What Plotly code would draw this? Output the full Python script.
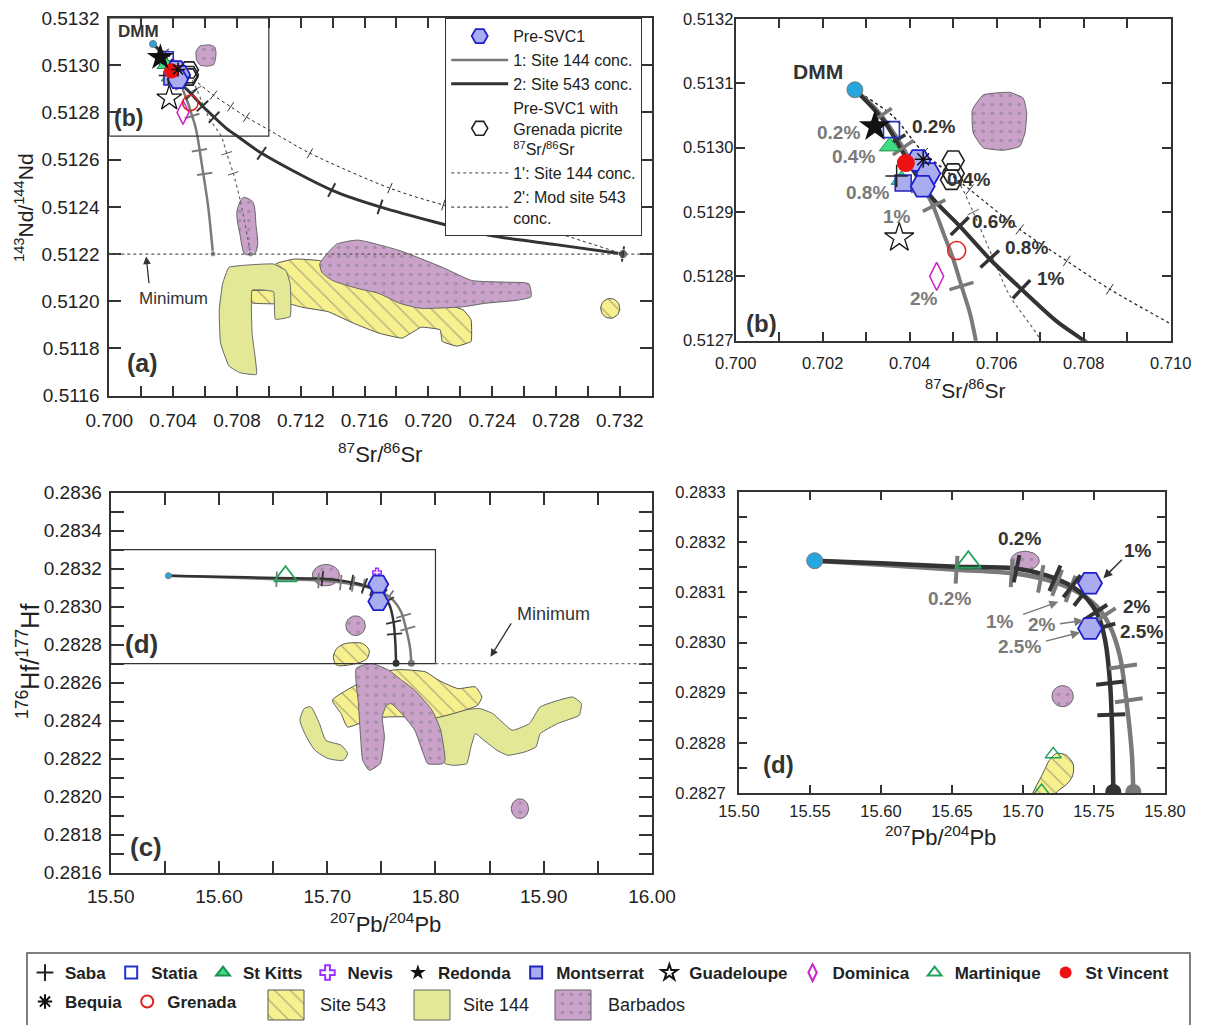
import numpy as np
import plotly.graph_objects as go

W, H = 1211, 1025
FONT = "Liberation Sans, Arial, sans-serif"

# ---------------- axis ranges and ticks ----------------
A_X = [0.700, 0.734]; A_Y = [0.5116, 0.5132]
B_X = [0.700, 0.710]; B_Y = [0.5127, 0.5132]
C_X = [15.50, 16.00]; C_Y = [0.2816, 0.2836]
D_X = [15.50, 15.80]; D_Y = [0.2827, 0.2833]

A_XTV = [0.700, 0.702, 0.704, 0.706, 0.708, 0.710, 0.712, 0.714, 0.716, 0.718, 0.720, 0.722, 0.724, 0.726, 0.728, 0.730, 0.732]
A_XTT = ["0.700", "", "0.704", "", "0.708", "", "0.712", "", "0.716", "", "0.720", "", "0.724", "", "0.728", "", "0.732"]
A_YTV = [0.5116, 0.5118, 0.5120, 0.5122, 0.5124, 0.5126, 0.5128, 0.5130, 0.5132]
A_YTT = ["0.5116", "0.5118", "0.5120", "0.5122", "0.5124", "0.5126", "0.5128", "0.5130", "0.5132"]
B_XTV = [0.700, 0.701, 0.702, 0.703, 0.704, 0.705, 0.706, 0.707, 0.708, 0.709, 0.710]
B_XTT = ["0.700", "", "0.702", "", "0.704", "", "0.706", "", "0.708", "", "0.710"]
B_YTV = [0.5127, 0.5128, 0.5129, 0.5130, 0.5131, 0.5132]
B_YTT = ["0.5127", "0.5128", "0.5129", "0.5130", "0.5131", "0.5132"]
C_XTV = [15.50, 15.55, 15.60, 15.65, 15.70, 15.75, 15.80, 15.85, 15.90, 15.95, 16.00]
C_XTT = ["15.50", "", "15.60", "", "15.70", "", "15.80", "", "15.90", "", "16.00"]
C_YTV = [0.2816, 0.2817, 0.2818, 0.2819, 0.2820, 0.2821, 0.2822, 0.2823, 0.2824, 0.2825, 0.2826,
         0.2827, 0.2828, 0.2829, 0.2830, 0.2831, 0.2832, 0.2833, 0.2834, 0.2835, 0.2836]
C_YTT = ["0.2816", "", "0.2818", "", "0.2820", "", "0.2822", "", "0.2824", "", "0.2826",
         "", "0.2828", "", "0.2830", "", "0.2832", "", "0.2834", "", "0.2836"]
D_XTV = [15.50, 15.55, 15.60, 15.65, 15.70, 15.75, 15.80]
D_XTT = ["15.50", "15.55", "15.60", "15.65", "15.70", "15.75", "15.80"]
D_YTV = [0.28270, 0.28275, 0.28280, 0.28285, 0.28290, 0.28295, 0.28300, 0.28305, 0.28310, 0.28315, 0.28320, 0.28325, 0.28330]
D_YTT = ["0.2827", "", "0.2828", "", "0.2829", "", "0.2830", "", "0.2831", "", "0.2832", "", "0.2833"]

MIN_ND = 0.5122
MIN_HF = 0.2827

# ---------------- Sr-Nd data (panels a, b) ----------------
DMM_SR = [0.70274]; DMM_ND = [0.51309]

# mixing curve 1: Site 144 conc.
C1_SR = [0.70274, 0.70324, 0.70385, 0.70423, 0.70454, 0.70477, 0.70500, 0.70519, 0.70538, 0.70552, 0.70580, 0.70620, 0.70650]
C1_ND = [0.51309, 0.513059, 0.51300, 0.51295, 0.512909, 0.512868, 0.512827, 0.512785, 0.512744, 0.51270, 0.51258, 0.51240, 0.51220]
# mixing curve 2: Site 543 conc.
C2_SR = [0.70274, 0.70339, 0.70416, 0.70454, 0.70515, 0.70584, 0.70657, 0.70738, 0.70801, 0.70955, 0.71394, 0.71697, 0.72382, 0.72800, 0.73220]
C2_ND = [0.51309, 0.513043, 0.512956, 0.51292, 0.512878, 0.512827, 0.51278, 0.51273, 0.51270, 0.512627, 0.512471, 0.51240, 0.51228, 0.51224, 0.51220]
# 1': Site 144 conc. (Grenada picrite Sr)
C1P_SR = [0.70274, 0.70360, 0.70431, 0.70508, 0.70546, 0.70584, 0.70630, 0.70701, 0.70736, 0.70777, 0.70820, 0.70886]
C1P_ND = [0.51309, 0.51305, 0.512993, 0.51295, 0.51290, 0.51284, 0.51277, 0.51270, 0.512627, 0.512542, 0.51243, 0.51220]
# 2': Mod site 543 conc.
C2P_SR = [0.70274, 0.70360, 0.70431, 0.70538, 0.70653, 0.70761, 0.70860, 0.71000, 0.71258, 0.71759, 0.72094, 0.72650, 0.73220]
C2P_ND = [0.51309, 0.51305, 0.512993, 0.512935, 0.512873, 0.512824, 0.51278, 0.512726, 0.512627, 0.512479, 0.512408, 0.51232, 0.51220]

# increments along curves
T1_SR = [0.70335, 0.70385, 0.70428, 0.70456, 0.70519, 0.70565, 0.70598]
T1_ND = [0.51305, 0.51300, 0.51294, 0.51291, 0.512785, 0.51264, 0.51254]
T2_SR = [0.70365, 0.70423, 0.70515, 0.70584, 0.70657, 0.70955, 0.71394, 0.71697, 0.73220]
T2_ND = [0.51301, 0.51295, 0.512878, 0.512827, 0.51278, 0.512627, 0.512471, 0.51240, 0.51220]
T1P_SR = [0.70546, 0.70736, 0.70777]
T1P_ND = [0.51290, 0.512627, 0.512542]
T2P_SR = [0.70431, 0.70538, 0.70653, 0.70761, 0.70860, 0.71258, 0.71759, 0.72094]
T2P_ND = [0.512993, 0.512935, 0.512873, 0.512824, 0.51278, 0.512627, 0.512479, 0.512408]

# island samples (Sr, Nd)
REDONDA = ([0.70320], [0.513033])
STATIA = ([0.70358], [0.513028])
STKITTS = ([0.70354, 0.70381], [0.513002, 0.51295])
SABA = ([0.70370], [0.512956])
MONTSERRAT = ([0.70385], [0.512945])
STVINCENT = ([0.70391], [0.512976])
BEQUIA = ([0.70431], [0.512982])
PRESVC1 = ([0.70420, 0.70443, 0.70430], [0.51298, 0.51296, 0.51294])
PRESVC1_GP = ([0.70500, 0.70500, 0.70496], [0.51298, 0.51296, 0.51295])
GUADELOUPE = ([0.70376], [0.51286])
GRENADA = ([0.70508], [0.51284])
DOMINICA = ([0.70462], [0.51280])

# fields (Sr, Nd)
S144_A_SR = [0.70750, 0.70895, 0.71028, 0.71107, 0.71134, 0.71134, 0.71041, 0.71030, 0.70975, 0.70895, 0.70895, 0.70922, 0.70816, 0.70750, 0.70697, 0.70689, 0.70710]
S144_A_ND = [0.512144, 0.512155, 0.512158, 0.512130, 0.512074, 0.511935, 0.511924, 0.512040, 0.512047, 0.512047, 0.511865, 0.511690, 0.511698, 0.511726, 0.511823, 0.511963, 0.512074]
S543_A_SR = [0.70890, 0.70890, 0.71001, 0.71041, 0.71160, 0.71319, 0.71690, 0.71955, 0.72220, 0.72268, 0.72268, 0.72180, 0.72087, 0.72074, 0.71955, 0.71836, 0.71690, 0.71531, 0.71372, 0.71213, 0.71134]
S543_A_ND = [0.511994, 0.512044, 0.512050, 0.512158, 0.512179, 0.512172, 0.512074, 0.512019, 0.511963, 0.511921, 0.511830, 0.511810, 0.511830, 0.511879, 0.511890, 0.511844, 0.511865, 0.511907, 0.511956, 0.511974, 0.511988]
S543_A_BLOB = (0.73140, 0.51197, 0.00060, 0.000042)
BARB_A1_SR = [0.71346, 0.71425, 0.71558, 0.71823, 0.72087, 0.72273, 0.72485, 0.72630, 0.72644, 0.72564, 0.72352, 0.72220, 0.71955, 0.71823, 0.71690, 0.71558, 0.71399, 0.71332, 0.71319]
BARB_A1_ND = [0.512186, 0.512242, 0.512259, 0.512214, 0.512144, 0.512088, 0.512081, 0.512074, 0.512019, 0.512005, 0.511991, 0.511977, 0.511970, 0.511991, 0.512033, 0.512054, 0.512088, 0.512123, 0.512158]
BARB_A2_SR = [0.70840, 0.70900, 0.70920, 0.70930, 0.70910, 0.70850, 0.70820, 0.70800]
BARB_A2_ND = [0.51244, 0.51242, 0.51232, 0.51224, 0.51220, 0.51220, 0.51228, 0.51238]
BARB_AB_SR = [0.70569, 0.70630, 0.70661, 0.70669, 0.70665, 0.70653, 0.70615, 0.70569, 0.70546, 0.70544]
BARB_AB_ND = [0.513082, 0.513086, 0.513077, 0.513054, 0.513023, 0.513002, 0.512996, 0.513000, 0.513023, 0.513059]

# ---------------- Pb-Hf data (panels c, d) ----------------
DMM_PB = [15.5533]; DMM_HF = [0.283163]
H2_PB = [15.5533, 15.6000, 15.6532, 15.6931, 15.7166, 15.7331, 15.7448, 15.7531, 15.7578, 15.7613, 15.7629, 15.7636]
H2_HF = [0.283163, 0.283158, 0.283151, 0.283148, 0.283134, 0.283114, 0.283088, 0.283052, 0.283005, 0.282919, 0.282813, 0.282702]
H1_PB = [15.5533, 15.6000, 15.6532, 15.6931, 15.7166, 15.7354, 15.7519, 15.7613, 15.7683, 15.7730, 15.7766, 15.7777]
H1_HF = [0.283163, 0.283155, 0.283145, 0.283138, 0.283125, 0.283105, 0.283072, 0.283032, 0.282972, 0.282880, 0.282780, 0.282702]
TH2_PB = [15.6955, 15.7225, 15.7345, 15.7420, 15.7510, 15.7555, 15.7613, 15.7622]
TH2_HF = [0.283147, 0.283128, 0.283112, 0.283095, 0.283060, 0.283030, 0.282919, 0.282856]
TH1_PB = [15.6532, 15.6920, 15.7125, 15.7240, 15.7335, 15.7570, 15.7705, 15.7745]
TH1_HF = [0.283145, 0.283138, 0.283127, 0.283119, 0.283107, 0.283053, 0.282952, 0.282885]

PRESVC1_PBHF = ([15.7472, 15.7472], [0.283118, 0.283028])
MARTINIQUE_PBHF = ([15.6615], [0.283160])
MARTINIQUE_D_EXTRA = ([15.7213, 15.7131], [0.282777, 0.282704])
NEVIS_PBHF = ([15.7460], [0.283180])

S144_C1_PB = [15.6788, 15.6848, 15.6928, 15.6988, 15.7128, 15.7188, 15.7148, 15.7008, 15.6888, 15.6808, 15.6748]
S144_C1_HF = [0.282464, 0.282473, 0.282385, 0.282297, 0.282271, 0.282227, 0.282192, 0.282201, 0.282244, 0.282315, 0.282402]
S144_C2_PB = [15.7828, 15.7968, 15.8208, 15.8408, 15.8528, 15.8708, 15.8868, 15.8968, 15.9268, 15.9348, 15.9328, 15.9128, 15.8968, 15.8928,
              15.8828, 15.8668, 15.8568, 15.8448, 15.8368, 15.8328, 15.8288, 15.8168, 15.8088, 15.8048, 15.7888, 15.7808]
S144_C2_HF = [0.282490, 0.282455, 0.282455, 0.282464, 0.282438, 0.282350, 0.282385, 0.282473, 0.282525, 0.282490, 0.282429, 0.282385, 0.282332, 0.282262,
              0.282236, 0.282218, 0.282244, 0.282297, 0.282332, 0.282262, 0.282174, 0.282165, 0.282174, 0.282209, 0.282315, 0.282385]
S543_C1_PB = [15.7088, 15.7168, 15.7328, 15.7388, 15.7368, 15.7288, 15.7088, 15.7056]
S543_C1_HF = [0.282780, 0.282806, 0.282806, 0.282770, 0.282727, 0.282704, 0.282692, 0.282736]
S543_C2_PB = [15.7048, 15.7288, 15.7448, 15.7648, 15.7908, 15.8028, 15.8208, 15.8368, 15.8428, 15.8388, 15.8168, 15.7968, 15.7808, 15.7568, 15.7408, 15.7188, 15.7128]
S543_C2_HF = [0.282508, 0.282596, 0.282648, 0.282669, 0.282657, 0.282613, 0.282569, 0.282578, 0.282525, 0.282481, 0.282438, 0.282411, 0.282420, 0.282420, 0.282411, 0.282367, 0.282438]
BARB_C_PB = [15.7268, 15.7408, 15.7568, 15.7688, 15.7808, 15.7968, 15.8048, 15.8088, 15.8068, 15.7928, 15.7888, 15.7808, 15.7688,
             15.7588, 15.7548, 15.7508, 15.7528, 15.7488, 15.7388, 15.7328, 15.7308, 15.7288]
BARB_C_HF = [0.282675, 0.282701, 0.282666, 0.282613, 0.282560, 0.282455, 0.282350, 0.282192, 0.282174, 0.282174, 0.282227, 0.282350, 0.282438,
             0.282490, 0.282481, 0.282420, 0.282315, 0.282174, 0.282139, 0.282192, 0.282315, 0.282490]
BARB_C_BLOBS = [(15.6988, 0.283166, 0.0125, 0.000056), (15.7262, 0.282900, 0.0090, 0.000052), (15.8780, 0.281937, 0.0080, 0.000052)]
BARB_D_BLOBS = [(15.7014, 0.283163, 0.0100, 0.000019), (15.7279, 0.282893, 0.0075, 0.000021)]
S543_D_PB = [15.7040, 15.7072, 15.7131, 15.7190, 15.7237, 15.7307, 15.7354, 15.7349, 15.7307, 15.7237, 15.7200]
S543_D_HF = [0.282680, 0.282702, 0.282734, 0.282767, 0.282779, 0.282775, 0.282757, 0.282734, 0.282717, 0.282702, 0.282680]

# ---------------- layout geometry (pixels) ----------------
DOM = {
    'a': ([109.3 / W, 651.7 / W], [1 - 395.7 / H, 1 - 18 / H]),
    'b': ([735.7 / W, 1170.7 / W], [1 - 340.7 / H, 1 - 19 / H]),
    'c': ([110.7 / W, 652.0 / W], [1 - 872.7 / H, 1 - 492.7 / H]),
    'd': ([739.0 / W, 1165.0 / W], [1 - 793.0 / H, 1 - 492.0 / H]),
}
RNG = {'a': (A_X, A_Y), 'b': (B_X, B_Y), 'c': (C_X, C_Y), 'd': (D_X, D_Y)}
AX = {'a': ('x', 'y'), 'b': ('x2', 'y2'), 'c': ('x3', 'y3'), 'd': ('x4', 'y4'), 'key': ('x5', 'y5')}

DARK = '#333333'
GREY = '#7a7a7a'

fig = go.Figure()


def on(p):
    return dict(xaxis=AX[p][0], yaxis=AX[p][1])


def scale(p):
    (x0, x1), (y0, y1) = DOM[p]
    rx, ry = RNG[p]
    return (x1 - x0) * W / (rx[1] - rx[0]), (y1 - y0) * H / (ry[1] - ry[0])


def tick_angles(cx, cy, tx, ty, p):
    sx, sy = scale(p)
    X = np.array(cx) * sx
    Y = -np.array(cy) * sy
    out = []
    for x, y in zip(tx, ty):
        px, py = x * sx, -y * sy
        best = None
        for i in range(len(X) - 1):
            vx, vy = X[i + 1] - X[i], Y[i + 1] - Y[i]
            L2 = vx * vx + vy * vy
            if L2 == 0:
                continue
            t = max(0.0, min(1.0, ((px - X[i]) * vx + (py - Y[i]) * vy) / L2))
            d = (X[i] + t * vx - px) ** 2 + (Y[i] + t * vy - py) ** 2
            if best is None or d < best[0]:
                best = (d, vx, vy)
        out.append(float(np.degrees(np.arctan2(best[2], best[1]))))
    return out


FIELD = {
    '543': dict(fillcolor='#f6f08e', line=dict(color='#555555', width=1),
                fillpattern=dict(shape='\\', fgcolor='#6a6a6a', bgcolor='#f6f08e', size=11, solidity=0.12)),
    '144': dict(fillcolor='#e2e896', line=dict(color='#666666', width=1)),
    'barb': dict(fillcolor='#c9a1c9', line=dict(color='#666666', width=1),
                 fillpattern=dict(shape='.', fgcolor='#7b7b84', bgcolor='#c9a1c9', size=9, solidity=0.13)),
}


def field(p, xs, ys, kind, smooth=0.6):
    st = FIELD[kind]
    kw = dict(st)
    kw['line'] = dict(st['line'], shape='spline' if smooth else 'linear', smoothing=smooth if smooth else 1)
    fig.add_trace(go.Scatter(x=list(xs) + [xs[0]], y=list(ys) + [ys[0]], mode='lines', fill='toself',
                             hoverinfo='skip', showlegend=False, **kw, **on(p)))


def ellipse_field(p, blob, kind):
    cx, cy, rx, ry = blob
    t = np.linspace(0, 2 * np.pi, 41)[:-1]
    field(p, list(cx + rx * np.cos(t)), list(cy + ry * np.sin(t)), kind, smooth=0)


def curve(p, xs, ys, color, width, dash='solid', name=None, legend=None, rank=None):
    fig.add_trace(go.Scatter(x=xs, y=ys, mode='lines', line=dict(color=color, width=width, dash=dash, shape='spline', smoothing=0.8),
                             hoverinfo='skip', name=name, showlegend=legend is not None,
                             legend=legend or 'legend', legendrank=rank if rank else 1000, **on(p)))


def ticks(p, cx, cy, tx, ty, color, size, width):
    fig.add_trace(go.Scatter(x=tx, y=ty, mode='markers', hoverinfo='skip', showlegend=False,
                             marker=dict(symbol='line-ns', size=size, angle=tick_angles(cx, cy, tx, ty, p),
                                         color=color, line=dict(color=color, width=width)), **on(p)))


def pts(p, data, symbol, color, size, lw=1.5, lcolor=None, name=None, legend=None, rank=None):
    fig.add_trace(go.Scatter(x=data[0], y=data[1], mode='markers', hoverinfo='skip', name=name,
                             showlegend=legend is not None, legend=legend or 'legend', legendrank=rank if rank else 1000,
                             marker=dict(symbol=symbol, size=size, color=color,
                                         line=dict(color=lcolor or color, width=lw)), **on(p)))


# ================= panels a & b =================
for p in ['a', 'b']:
    big = p == 'b'
    if p == 'a':
        field(p, S543_A_SR, S543_A_ND, '543', smooth=0.3)
        ellipse_field(p, S543_A_BLOB, '543')
        field(p, S144_A_SR, S144_A_ND, '144', smooth=0.3)
        field(p, BARB_A1_SR, BARB_A1_ND, 'barb', smooth=0.5)
        field(p, BARB_A2_SR, BARB_A2_ND, 'barb', smooth=0.8)
    field(p, BARB_AB_SR, BARB_AB_ND, 'barb', smooth=0.4)

    lg = 'legend2' if p == 'a' else None
    curve(p, C1P_SR, C1P_ND, '#666666', 1.2, 'dot', "1': Site 144 conc.", lg, 5)
    curve(p, C2P_SR, C2P_ND, '#222222', 1.2 if big else 1.0, 'dot', "2': Mod site 543<br>conc.", lg, 6)
    curve(p, C1_SR, C1_ND, GREY, 4 if big else 2.5, 'solid', "1: Site 144 conc.", lg, 2)
    curve(p, C2_SR, C2_ND, DARK, 4 if big else 3, 'solid', "2: Site 543 conc.", lg, 3)

    ticks(p, C1P_SR, C1P_ND, T1P_SR, T1P_ND, '#555555', 9 if big else 8, 1)
    ticks(p, C2P_SR, C2P_ND, T2P_SR, T2P_ND, '#333333', 9 if big else 8, 1)
    ticks(p, C1_SR, C1_ND, T1_SR, T1_ND, GREY, 18 if big else 11, 3.5 if big else 2)
    ticks(p, C2_SR, C2_ND, T2_SR, T2_ND, DARK, 18 if big else 11, 3.5 if big else 2)

    if p == 'a':
        fig.add_trace(go.Scatter(x=[C1_SR[-1], C1P_SR[-1], C2_SR[-1]], y=[C1_ND[-1], C1P_ND[-1], C2_ND[-1]],
                                 mode='markers', hoverinfo='skip', showlegend=False,
                                 marker=dict(size=[6, 6, 9], color=[GREY, GREY, DARK]), **on(p)))

    s = 1.0 if big else 0.85
    leg1 = 'legend' if big else None
    leg3 = 'legend3' if big else None
    pts(p, DOMINICA, 'diamond-tall-open', '#cc22cc', 20 * s, 1.5, name='<b>Dominica</b>', legend=leg1, rank=8)
    pts(p, GUADELOUPE, 'star-open', '#111111', 22 * s, 1.3, name='<b>Guadeloupe</b>', legend=leg1, rank=7)
    pts(p, GRENADA, 'circle-open', '#dd2222', 18 * s, 1.5, name='<b>Grenada</b>', legend=leg3, rank=2)
    pts(p, PRESVC1_GP, 'hexagon2-open', '#222222', 22 * s, 1.6, name='Pre-SVC1 with<br>Grenada picrite<br><sup>87</sup>Sr/<sup>86</sup>Sr',
        legend='legend2' if p == 'a' else None, rank=4)
    pts(p, STATIA, 'square-open', '#2233cc', 16 * s, 1.6, name='<b>Statia</b>', legend=leg1, rank=2)
    pts(p, STKITTS, 'triangle-up', '#3ddc84', 18 * s, 1, '#1e8f4e', name='<b>St Kitts</b>', legend=leg1, rank=3)
    pts(p, MONTSERRAT, 'square', '#a9adf0', 16 * s, 1.5, '#2222bb', name='<b>Montserrat</b>', legend=leg1, rank=6)
    pts(p, PRESVC1, 'hexagon2', '#a9adf0', 24 * s, 1.8, '#1f1fcc', name='Pre-SVC1', legend='legend2' if p == 'a' else None, rank=1)
    pts(p, SABA, 'cross-thin', '#222222', 16 * s, 1.5, name='<b>Saba</b>', legend=leg1, rank=1)
    pts(p, STVINCENT, 'circle', '#ee1111', 18 * s, 0, name='<b>St Vincent</b>', legend=leg1, rank=10)
    pts(p, BEQUIA, 'asterisk-open', '#111111', 14 * s, 1.5, name='<b>Bequia</b>', legend=leg3, rank=1)
    pts(p, REDONDA, 'star', '#111111', 24 * s, 0, name='<b>Redonda</b>', legend=leg1, rank=5)
    pts(p, (DMM_SR, DMM_ND), 'circle', '#28a6de', 16 if big else 7, 1, '#7a7a7a')

# ================= panels c & d =================
for p in ['c', 'd']:
    big = p == 'd'
    if p == 'c':
        field(p, S144_C1_PB, S144_C1_HF, '144', smooth=0.6)
        field(p, S144_C2_PB, S144_C2_HF, '144', smooth=0.4)
        field(p, S543_C2_PB, S543_C2_HF, '543', smooth=0.5)
        field(p, S543_C1_PB, S543_C1_HF, '543', smooth=0.8)
        field(p, BARB_C_PB, BARB_C_HF, 'barb', smooth=0.5)
        for b in BARB_C_BLOBS:
            ellipse_field(p, b, 'barb')
    else:
        field(p, S543_D_PB, S543_D_HF, '543', smooth=0.8)
        for b in BARB_D_BLOBS:
            ellipse_field(p, b, 'barb')

    curve(p, H1_PB, H1_HF, GREY, 4.5 if big else 2.5)
    curve(p, H2_PB, H2_HF, DARK, 4.5 if big else 2.5)
    ticks(p, H1_PB, H1_HF, TH1_PB, TH1_HF, GREY, 20 if big else 11, 4 if big else 1.8)
    ticks(p, H2_PB, H2_HF, TH2_PB, TH2_HF, DARK, 20 if big else 11, 4 if big else 1.8)
    fig.add_trace(go.Scatter(x=[H2_PB[-1], H1_PB[-1]], y=[H2_HF[-1], H1_HF[-1]], mode='markers', hoverinfo='skip',
                             showlegend=False, marker=dict(size=16 if big else 7, color=[DARK, GREY]), **on(p)))

    pts(p, MARTINIQUE_PBHF, 'triangle-up-open', '#1fa35a', 22 if big else 20, 1.8,
        name='<b>Martinique</b>', legend='legend' if big else None, rank=9)
    if big:
        pts(p, MARTINIQUE_D_EXTRA, 'triangle-up-open', '#1fa35a', 14, 1.5)
    if p == 'c':
        pts(p, NEVIS_PBHF, 'cross-open', '#9b30ff', 7, 1.5, name='<b>Nevis</b>', legend='legend', rank=4)
    pts(p, PRESVC1_PBHF, 'hexagon2', '#a9adf0', 24 if big else 20, 1.8, '#1f1fcc')
    pts(p, (DMM_PB, DMM_HF), 'circle', '#28a6de', 16 if big else 6, 1, '#7a7a7a')

# ================= key swatches for the three fields (bottom key, pixel space) =================
KEY_SWATCHES = [('543', 'Site 543', 268, 990, 36, 30, 318), ('144', 'Site 144', 414, 990, 36, 30, 461),
                ('barb', 'Barbados', 555, 990, 36, 30, 606)]
for kind, label, x0, y0, w, h, tx in KEY_SWATCHES:
    st = FIELD[kind]
    fig.add_trace(go.Scatter(x=[x0, x0 + w, x0 + w, x0, x0], y=[y0, y0, y0 + h, y0 + h, y0], mode='lines', fill='toself',
                             hoverinfo='skip', showlegend=False, **st, **on('key')))


# ================= axes =================
def axis(p, which, tv, tt, tlen, fs, standoff):
    dom = DOM[p][0 if which == 'x' else 1]
    rng = RNG[p][0 if which == 'x' else 1]
    d = dict(range=rng, domain=dom, tickmode='array', tickvals=tv, ticktext=tt, ticks='inside', ticklen=tlen,
             tickwidth=1.6, tickcolor=DARK, showline=True, linewidth=2, linecolor=DARK, mirror='allticks',
             showgrid=False, zeroline=False, fixedrange=True, ticklabelstandoff=standoff,
             tickfont=dict(family=FONT, size=fs, color='#222222'))
    d['anchor'] = AX[p][1] if which == 'x' else AX[p][0]
    return d


fig.update_layout(
    xaxis=axis('a', 'x', A_XTV, A_XTT, 10, 19, 6),
    yaxis=axis('a', 'y', A_YTV, A_YTT, 12, 19, 4),
    xaxis2=axis('b', 'x', B_XTV, B_XTT, 9, 16.5, 6),
    yaxis2=axis('b', 'y', B_YTV, B_YTT, 9, 16.5, -3),
    xaxis3=axis('c', 'x', C_XTV, C_XTT, 12, 19, 5),
    yaxis3=axis('c', 'y', C_YTV, C_YTT, 13, 19, 3),
    xaxis4=axis('d', 'x', D_XTV, D_XTT, 8, 16.5, 2),
    yaxis4=axis('d', 'y', D_YTV, D_YTT, 8, 16.5, 8),
    xaxis5=dict(domain=[0, 1], range=[0, W], visible=False, fixedrange=True, anchor='y5'),
    yaxis5=dict(domain=[0, 1], range=[H, 0], visible=False, fixedrange=True, anchor='x5'),
)

# ================= shapes =================
shapes = [
    dict(type='rect', xref='x', yref='y', x0=B_X[0], x1=B_X[1], y0=B_Y[0], y1=B_Y[1], line=dict(color=DARK, width=1.2)),
    dict(type='line', xref='x', yref='y', x0=A_X[0], x1=A_X[1], y0=MIN_ND, y1=MIN_ND, line=dict(color='#555555', width=1.2, dash='dot')),
    dict(type='rect', xref='x3', yref='y3', x0=D_X[0], x1=D_X[1], y0=D_Y[0], y1=D_Y[1], line=dict(color=DARK, width=1.2)),
    dict(type='line', xref='x3', yref='y3', x0=D_X[1], x1=C_X[1], y0=MIN_HF, y1=MIN_HF, line=dict(color='#777777', width=1.2, dash='dot')),
    dict(type='rect', xref='paper', yref='paper', x0=27 / W, x1=1190 / W, y0=-0.02, y1=1 - 953 / H, line=dict(color='#555555', width=1.5)),
]
fig.update_layout(shapes=shapes)

# ================= annotations =================
ann = []


def txt(p, x, y, t, size, color=DARK, bold=True, **kw):
    ann.append(dict(xref=AX[p][0], yref=AX[p][1], x=x, y=y, text=('<b>%s</b>' % t) if bold else t, showarrow=False,
                    xanchor='center', yanchor='middle', font=dict(family=FONT, size=size, color=color), **kw))


def arrow(p, x, y, axx, ayy, color, width=1.5, head=2, hs=1.2):
    ann.append(dict(xref=AX[p][0], yref=AX[p][1], axref=AX[p][0], ayref=AX[p][1], x=x, y=y, ax=axx, ay=ayy, text='',
                    showarrow=True, arrowhead=head, arrowsize=hs, arrowwidth=width, arrowcolor=color))


def ptxt(x, y, t, size, angle=0, xanchor='center'):
    ann.append(dict(xref='paper', yref='paper', x=x / W, y=1 - y / H, text=t, showarrow=False, textangle=angle,
                    xanchor=xanchor, yanchor='middle', font=dict(family=FONT, size=size, color='#222222')))


# panel a
txt('a', 0.70186, 0.513142, 'DMM', 17)
txt('a', 0.70119, 0.512775, '(b)', 23)
txt('a', 0.70210, 0.51174, '(a)', 25)
txt('a', 0.70400, 0.51201, 'Minimum', 17, bold=False)
arrow('a', 0.70231, 0.51219, 0.70250, 0.51207, '#333333', 1.3)
# panel b
txt('b', 0.70190, 0.513118, 'DMM', 21)
txt('b', 0.70059, 0.512726, '(b)', 24)
for (x, y, t) in [(0.70236, 0.513023, '0.2%'), (0.70271, 0.512987, '0.4%'), (0.70304, 0.51293, '0.8%'),
                  (0.70371, 0.512893, '1%'), (0.70433, 0.512765, '2%')]:
    txt('b', x, y, t, 19, GREY)
for (x, y, t) in [(0.70454, 0.513033, '0.2%'), (0.70535, 0.51295, '0.4%'), (0.70592, 0.512886, '0.6%'),
                  (0.70669, 0.512845, '0.8%'), (0.70724, 0.512796, '1%')]:
    txt('b', x, y, t, 19, DARK)
# panel c
txt('c', 15.5288, 0.282806, '(d)', 26)
txt('c', 15.5328, 0.281735, '(c)', 26)
txt('c', 15.9088, 0.282964, 'Minimum', 18, bold=False)
arrow('c', 15.8508, 0.282736, 15.8708, 0.28292, '#333333', 1.3)
# panel d
txt('d', 15.5275, 0.282757, '(d)', 24)
for (x, y, t) in [(15.6978, 0.283207, '0.2%'), (15.7813, 0.283184, '1%'), (15.7801, 0.283072, '2%'), (15.7836, 0.283022, '2.5%')]:
    txt('d', x, y, t, 19, DARK)
for (x, y, t) in [(15.6485, 0.283088, '0.2%'), (15.6837, 0.283042, '1%'), (15.7131, 0.283035, '2%'), (15.6978, 0.282992, '2.5%')]:
    txt('d', x, y, t, 19, GREY)
arrow('d', 15.7566, 0.283128, 15.7707, 0.283168, '#333333', 1.5)
arrow('d', 15.7249, 0.283081, 15.6990, 0.283055, GREY, 1.5)
arrow('d', 15.7425, 0.283044, 15.7250, 0.283037, GREY, 1.5)
arrow('d', 15.7401, 0.283020, 15.7150, 0.283002, GREY, 1.5)
# axis titles
ptxt(380, 453, '<sup>87</sup>Sr/<sup>86</sup>Sr', 22)
ptxt(24, 208, '<sup>143</sup>Nd/<sup>144</sup>Nd', 21, -90)
ptxt(965, 389, '<sup>87</sup>Sr/<sup>86</sup>Sr', 21)
ptxt(385, 923, '<sup>207</sup>Pb/<sup>204</sup>Pb', 22)
ptxt(28, 662, '<sup>176</sup>Hf/<sup>177</sup>Hf', 25, -90)
ptxt(940, 836, '<sup>207</sup>Pb/<sup>204</sup>Pb', 22)
# bottom key labels for field swatches
for kind, label, x0, y0, w, h, tx in KEY_SWATCHES:
    ptxt(tx, y0 + h / 2, label, 18, xanchor='left')
fig.update_layout(annotations=ann)

# ================= legends =================
fig.update_layout(
    width=W, height=H, margin=dict(l=0, r=0, t=0, b=0, autoexpand=False),
    paper_bgcolor='white', plot_bgcolor='rgba(0,0,0,0)', hovermode=False,
    font=dict(family=FONT, color='#222222'),
    legend=dict(orientation='h', x=25 / W, y=1 - 955 / H, xanchor='left', yanchor='top', bgcolor='rgba(0,0,0,0)',
                font=dict(family=FONT, size=17, color='#222222'), itemsizing='constant', itemwidth=30,
                tracegroupgap=0, traceorder='normal'),
    legend2=dict(x=445 / W, y=1 - 18 / H, xanchor='left', yanchor='top', bgcolor='white', bordercolor='#333333',
                 borderwidth=1.2, font=dict(family=FONT, size=16, color='#222222'), itemwidth=57, tracegroupgap=0,
                 traceorder='normal'),
    legend3=dict(orientation='h', x=25 / W, y=1 - 984 / H, xanchor='left', yanchor='top', bgcolor='rgba(0,0,0,0)',
                 font=dict(family=FONT, size=17, color='#222222'), itemsizing='constant', itemwidth=30,
                 tracegroupgap=0, traceorder='normal'),
)

fig.write_html("out.html")
